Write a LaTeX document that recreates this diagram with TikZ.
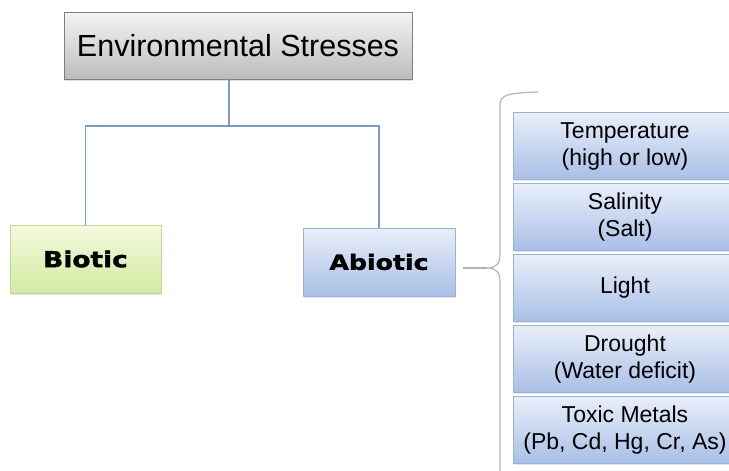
\documentclass[tikz,border=0pt]{standalone}
\usepackage{fontspec}
\setmainfont{Liberation Sans}
\newfontfamily\heavyfont[FakeStretch=1.2, FakeBold=1.6]{DejaVu Sans Bold}
\usetikzlibrary{positioning, shadows}
\definecolor{linkblue}{HTML}{7D9BBB}
\definecolor{bracegray}{HTML}{B4B4B4}
\definecolor{graytop}{HTML}{F4F4F4}
\definecolor{graybot}{HTML}{BCBCBC}
\definecolor{grayline}{HTML}{7F7F7F}
\definecolor{greentop}{HTML}{F5FADF}
\definecolor{greenbot}{HTML}{D3E9A2}
\definecolor{greenline}{HTML}{C2D79E}
\definecolor{bluetop}{HTML}{E9EFF9}
\definecolor{bluebot}{HTML}{A9BFE7}
\definecolor{blueline}{HTML}{9AB1D8}
\tikzstyle{topbox}=[draw=grayline, top color=graytop, bottom color=graybot, minimum width=348pt, minimum height=67pt, font=\fontsize{30.5}{34}\selectfont, drop shadow={opacity=0.25, shadow xshift=1pt, shadow yshift=-1.5pt}]
\tikzstyle{biobox}=[draw=greenline, top color=greentop, bottom color=greenbot, minimum width=151pt, minimum height=68pt, font=\heavyfont\fontsize{22}{24}\selectfont, drop shadow={opacity=0.2, shadow xshift=1pt, shadow yshift=-1.5pt}]
\tikzstyle{abiobox}=[draw=blueline, top color=bluetop, bottom color=bluebot, minimum width=152pt, minimum height=68pt, font=\heavyfont\fontsize{21}{24}\selectfont, drop shadow={opacity=0.2, shadow xshift=1pt, shadow yshift=-1.5pt}]
\tikzstyle{stackbox}=[draw=blueline, top color=bluetop, bottom color=bluebot, minimum width=224pt, minimum height=67pt, align=center, font=\fontsize{23}{27}\selectfont, drop shadow={opacity=0.2, shadow xshift=1pt, shadow yshift=-1.5pt}]
\tikzstyle{link}=[draw=linkblue, line width=1.6pt]

\begin{document}
\begin{tikzpicture}[x=1pt, y=-1pt]
            \useasboundingbox[fill=white] (0,0) rectangle (729,471);
            \clip (0,0) rectangle (729,471);
            % tree
            \node[topbox] (env) at (238,45.5) {Environmental Stresses};
            \node[biobox] (biotic) at (85.5,259) {Biotic};
            \node[abiobox] (abiotic) at (379,262) {Abiotic};
            \coordinate (split) at (229,126);
            \draw[link] (env.south -| split) -- (split);
            \draw[link] (biotic.north) |- (split) -| (abiotic.north);
            % list of abiotic stresses
            \node[stackbox] (temp) at (625,146) {Temperature\\(high or low)};
            \node[stackbox, below=3.5pt of temp] (salt) {Salinity\\(Salt)};
            \node[stackbox, below=3.5pt of salt] (light) {Light};
            \node[stackbox, below=3.5pt of light] (drought) {Drought\\(Water deficit)};
            \node[stackbox, below=3.5pt of drought] (metal) {Toxic Metals\\(Pb, Cd, Hg, Cr, As)};
            % brace
            \coordinate (tip) at (487,268);
            \draw[bracegray, line width=1.2pt] (538,92) .. controls (506,93) and (500,95) .. (500,106)
                -- (500,254) .. controls (500,264) and (496,268) .. (tip)
                .. controls (496,268) and (500,272) .. (500,282) -- (500,480);
            \draw[bracegray, line width=1.2pt] ([xshift=8pt]abiotic.east |- tip) -- (tip);
        \end{tikzpicture}
\end{document}
